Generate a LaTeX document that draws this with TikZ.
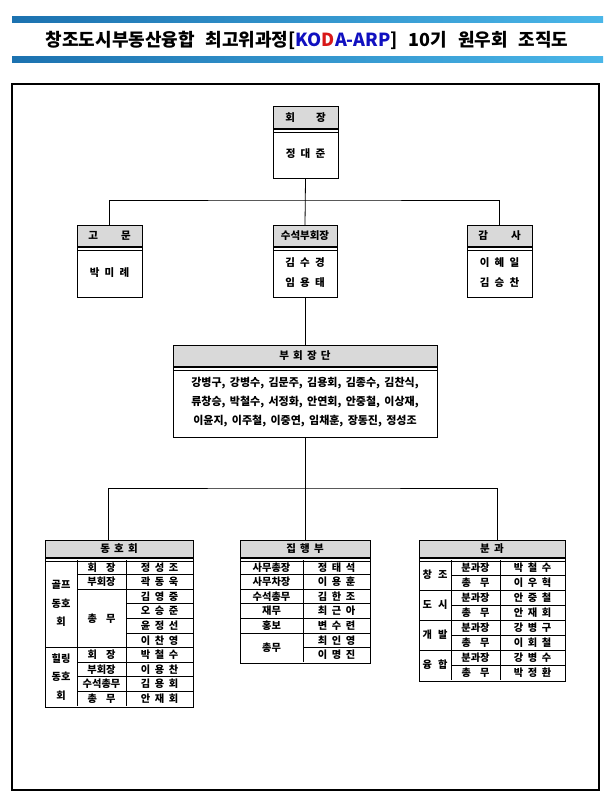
\documentclass[tikz,border=0pt]{standalone}
\usepackage{fontspec}
\setmainfont{Noto Sans CJK KR}
\usetikzlibrary{positioning,calc}
\definecolor{barblue}{HTML}{1C72B0}
\definecolor{barsky}{HTML}{4AB6E8}
\definecolor{headgray}{HTML}{D9D9D9}
\definecolor{kodablue}{HTML}{1010C0}
\definecolor{kodared}{HTML}{D81818}

\begin{document}
\begin{tikzpicture}[x=1pt, y=-1pt,
  thinline/.style={line width=0.8pt},
  headbox/.style={draw, line width=0.8pt, fill=headgray, inner sep=0pt, anchor=north,
    font={\bfseries\fontsize{10.5}{12}\selectfont\spaceskip=0.4em\relax}},
  namebox/.style={draw, line width=0.8pt, inner sep=0pt, anchor=north, align=center,
    font={\bfseries\fontsize{10.5}{20}\selectfont\spaceskip=0.5em\relax},
    path picture={\draw[line width=0.8pt] ([yshift=-3pt]path picture bounding box.north west)
      -- ([yshift=-3pt]path picture bounding box.north east);}},
  tcell/.style={inner sep=0pt, align=center, font={\bfseries\fontsize{10.2}{11}\selectfont\spaceskip=0.45em\relax}},
  groupcell/.style={tcell, font={\bfseries\fontsize{10.2}{18.5}\selectfont}}]
  \useasboundingbox (0,0) rectangle (615,802);

  % title strip
  \shade[left color=barblue, right color=barsky] (12,17) rectangle (603,23);
  \shade[left color=barblue, right color=barsky] (12,57) rectangle (603,63);
  \node[font={\bfseries\fontsize{18}{20}\selectfont\spaceskip=0.6em\relax}] (title) at (307,40)
    {창조도시부동산융합 최고위과정[\textcolor{kodablue}{KO}\textcolor{kodared}{D}\textcolor{kodablue}{A-ARP}] 10기 원우회 조직도};
  \draw[line width=1.3pt] (12,84) rectangle (599,790);

  % chair
  \node[headbox, minimum width=65pt, minimum height=22pt] (chair) at (305.5,106) {회\hspace{2em}장};
  \node[namebox, minimum width=65pt, minimum height=49pt] (chairN) at (chair.south) {정 대 준};

  % advisor, senior vice chair, auditor
  \node[headbox, minimum width=65pt, minimum height=21pt] (adv) at (109.5,225) {고\hspace{2.2em}문};
  \node[namebox, minimum width=65pt, minimum height=50pt] (advN) at (adv.south) {박 미 례};
  \node[headbox, minimum width=64pt, minimum height=21pt] (svp) at (305,225) {수석부회장};
  \node[namebox, minimum width=64pt, minimum height=50pt] (svpN) at (svp.south) {김 수 경\\임 용 태};
  \node[headbox, minimum width=65pt, minimum height=21pt] (aud) at (499.5,225) {감\hspace{2.2em}사};
  \node[namebox, minimum width=65pt, minimum height=50pt] (audN) at (aud.south) {이 혜 일\\김 승 찬};

  \coordinate (j1) at (305,200);
  \draw[thinline] (chairN.south) -- (svp.north);
  \draw[thinline] (adv.north) |- (j1) -| (aud.north);

  % vice chairs
  \node[headbox, minimum width=264pt, minimum height=21pt] (vpg) at (305,345) {부 회 장 단};
  \node[namebox, minimum width=264pt, minimum height=70pt, font={\bfseries\fontsize{11}{19}\selectfont\spaceskip=0.4em\relax}] (vpgN) at (vpg.south)
    {강병구, 강병수, 김문주, 김용회, 김종수, 김찬식,\\류창승, 박철수, 서정화, 안연회, 안중철, 이상재,\\이윤지, 이주철, 이중연, 임채훈, 장동진, 정성조};
  \draw[thinline] (svpN.south) -- (vpg.north);

  % lower tables
  \node[headbox, minimum width=148pt, minimum height=17pt] (club) at (119,540) {동 호 회};
  \node[namebox, minimum width=148pt, minimum height=149pt] (clubN) at (club.south) {};
  \node[headbox, minimum width=130pt, minimum height=17pt] (exec) at (305,540) {집 행 부};
  \node[namebox, minimum width=130pt, minimum height=105.2pt] (execN) at (exec.south) {};
  \node[headbox, minimum width=146pt, minimum height=17pt] (sec) at (492,540) {분 과};
  \node[namebox, minimum width=146pt, minimum height=123pt] (secN) at (sec.south) {};

  \coordinate (j2) at (305,488);
  \draw[thinline] (vpgN.south) -- (exec.north);
  \draw[thinline] ([xshift=-11pt]club.north) |- (j2) -| ([xshift=5pt]sec.north);

  % club grid
  \draw[thinline] (77,560) -- (77,706) (126,560) -- (126,706);
  \foreach \i in {1,...,9} \draw[thinline] (126,{560+14.6*\i}) -- (193,{560+14.6*\i});
  \foreach \i in {1,2,6,7,8,9} \draw[thinline] (77,{560+14.6*\i}) -- (126,{560+14.6*\i});
  \draw[thinline] (45,{560+14.6*6}) -- (77,{560+14.6*6});
  \node[groupcell] (golf) at (61,{560+14.6*3}) {골프\\동호\\회};
  \node[groupcell] (heal) at (61,{560+14.6*8}) {힐링\\동호\\회};
  \foreach \r/\lab [count=\i] in {0.5/회\hspace{0.9em}장, 1.5/부회장, 4/총\hspace{0.9em}무, 6.5/회\hspace{0.9em}장, 7.5/부회장, 8.5/수석총무, 9.5/총\hspace{0.9em}무}
    \node[tcell] (cr\i) at (101.5,{560+14.6*\r}) {\lab};
  \foreach \nm [count=\i] in {정 성 조, 곽 동 욱, 김 영 중, 오 승 준, 윤 정 선, 이 찬 영, 박 철 수, 이 용 찬, 김 용 회, 안 재 회}
    \node[tcell] (cm\i) at (159.5,{560+14.6*(\i-0.5)}) {\nm};

  % executive grid
  \draw[thinline] (303,560) -- (303,662.2);
  \foreach \i in {1,...,5} \draw[thinline] (240,{560+14.6*\i}) -- (370,{560+14.6*\i});
  \draw[thinline] (303,{560+14.6*6}) -- (370,{560+14.6*6});
  \foreach \r/\lab [count=\i] in {0.5/사무총장, 1.5/사무차장, 2.5/수석총무, 3.5/재무, 4.5/홍보, 6/총무}
    \node[tcell] (er\i) at (271.5,{560+14.6*\r}) {\lab};
  \foreach \nm [count=\i] in {정 태 석, 이 용 훈, 김 한 조, 최 근 아, 변 수 련, 최 인 영, 이 명 진}
    \node[tcell] (en\i) at (336.5,{560+14.6*(\i-0.5)}) {\nm};

  % section grid
  \draw[thinline] (451,560) -- (451,680) (500,560) -- (500,680);
  \foreach \i in {1,...,7} \draw[thinline] (451,{560+15*\i}) -- (565,{560+15*\i});
  \foreach \i in {2,4,6} \draw[thinline] (419,{560+15*\i}) -- (451,{560+15*\i});
  \foreach \lab [count=\i] in {창\hspace{0.6em}조, 도\hspace{0.6em}시, 개\hspace{0.6em}발, 융\hspace{0.6em}합}
    \node[tcell] (sg\i) at (435,{560+30*\i-15}) {\lab};
  \foreach \i in {1,...,4} {
    \node[tcell] (sh\i) at (475.5,{560+30*\i-22.5}) {분과장};
    \node[tcell] (st\i) at (475.5,{560+30*\i-7.5}) {총\hspace{0.9em}무};
  }
  \foreach \nm [count=\i] in {박 철 수, 이 우 혁, 안 중 철, 안 재 회, 강 병 구, 이 회 철, 강 병 수, 박 정 환}
    \node[tcell] (sn\i) at (532.5,{560+15*(\i-0.5)}) {\nm};
\end{tikzpicture}
\end{document}
